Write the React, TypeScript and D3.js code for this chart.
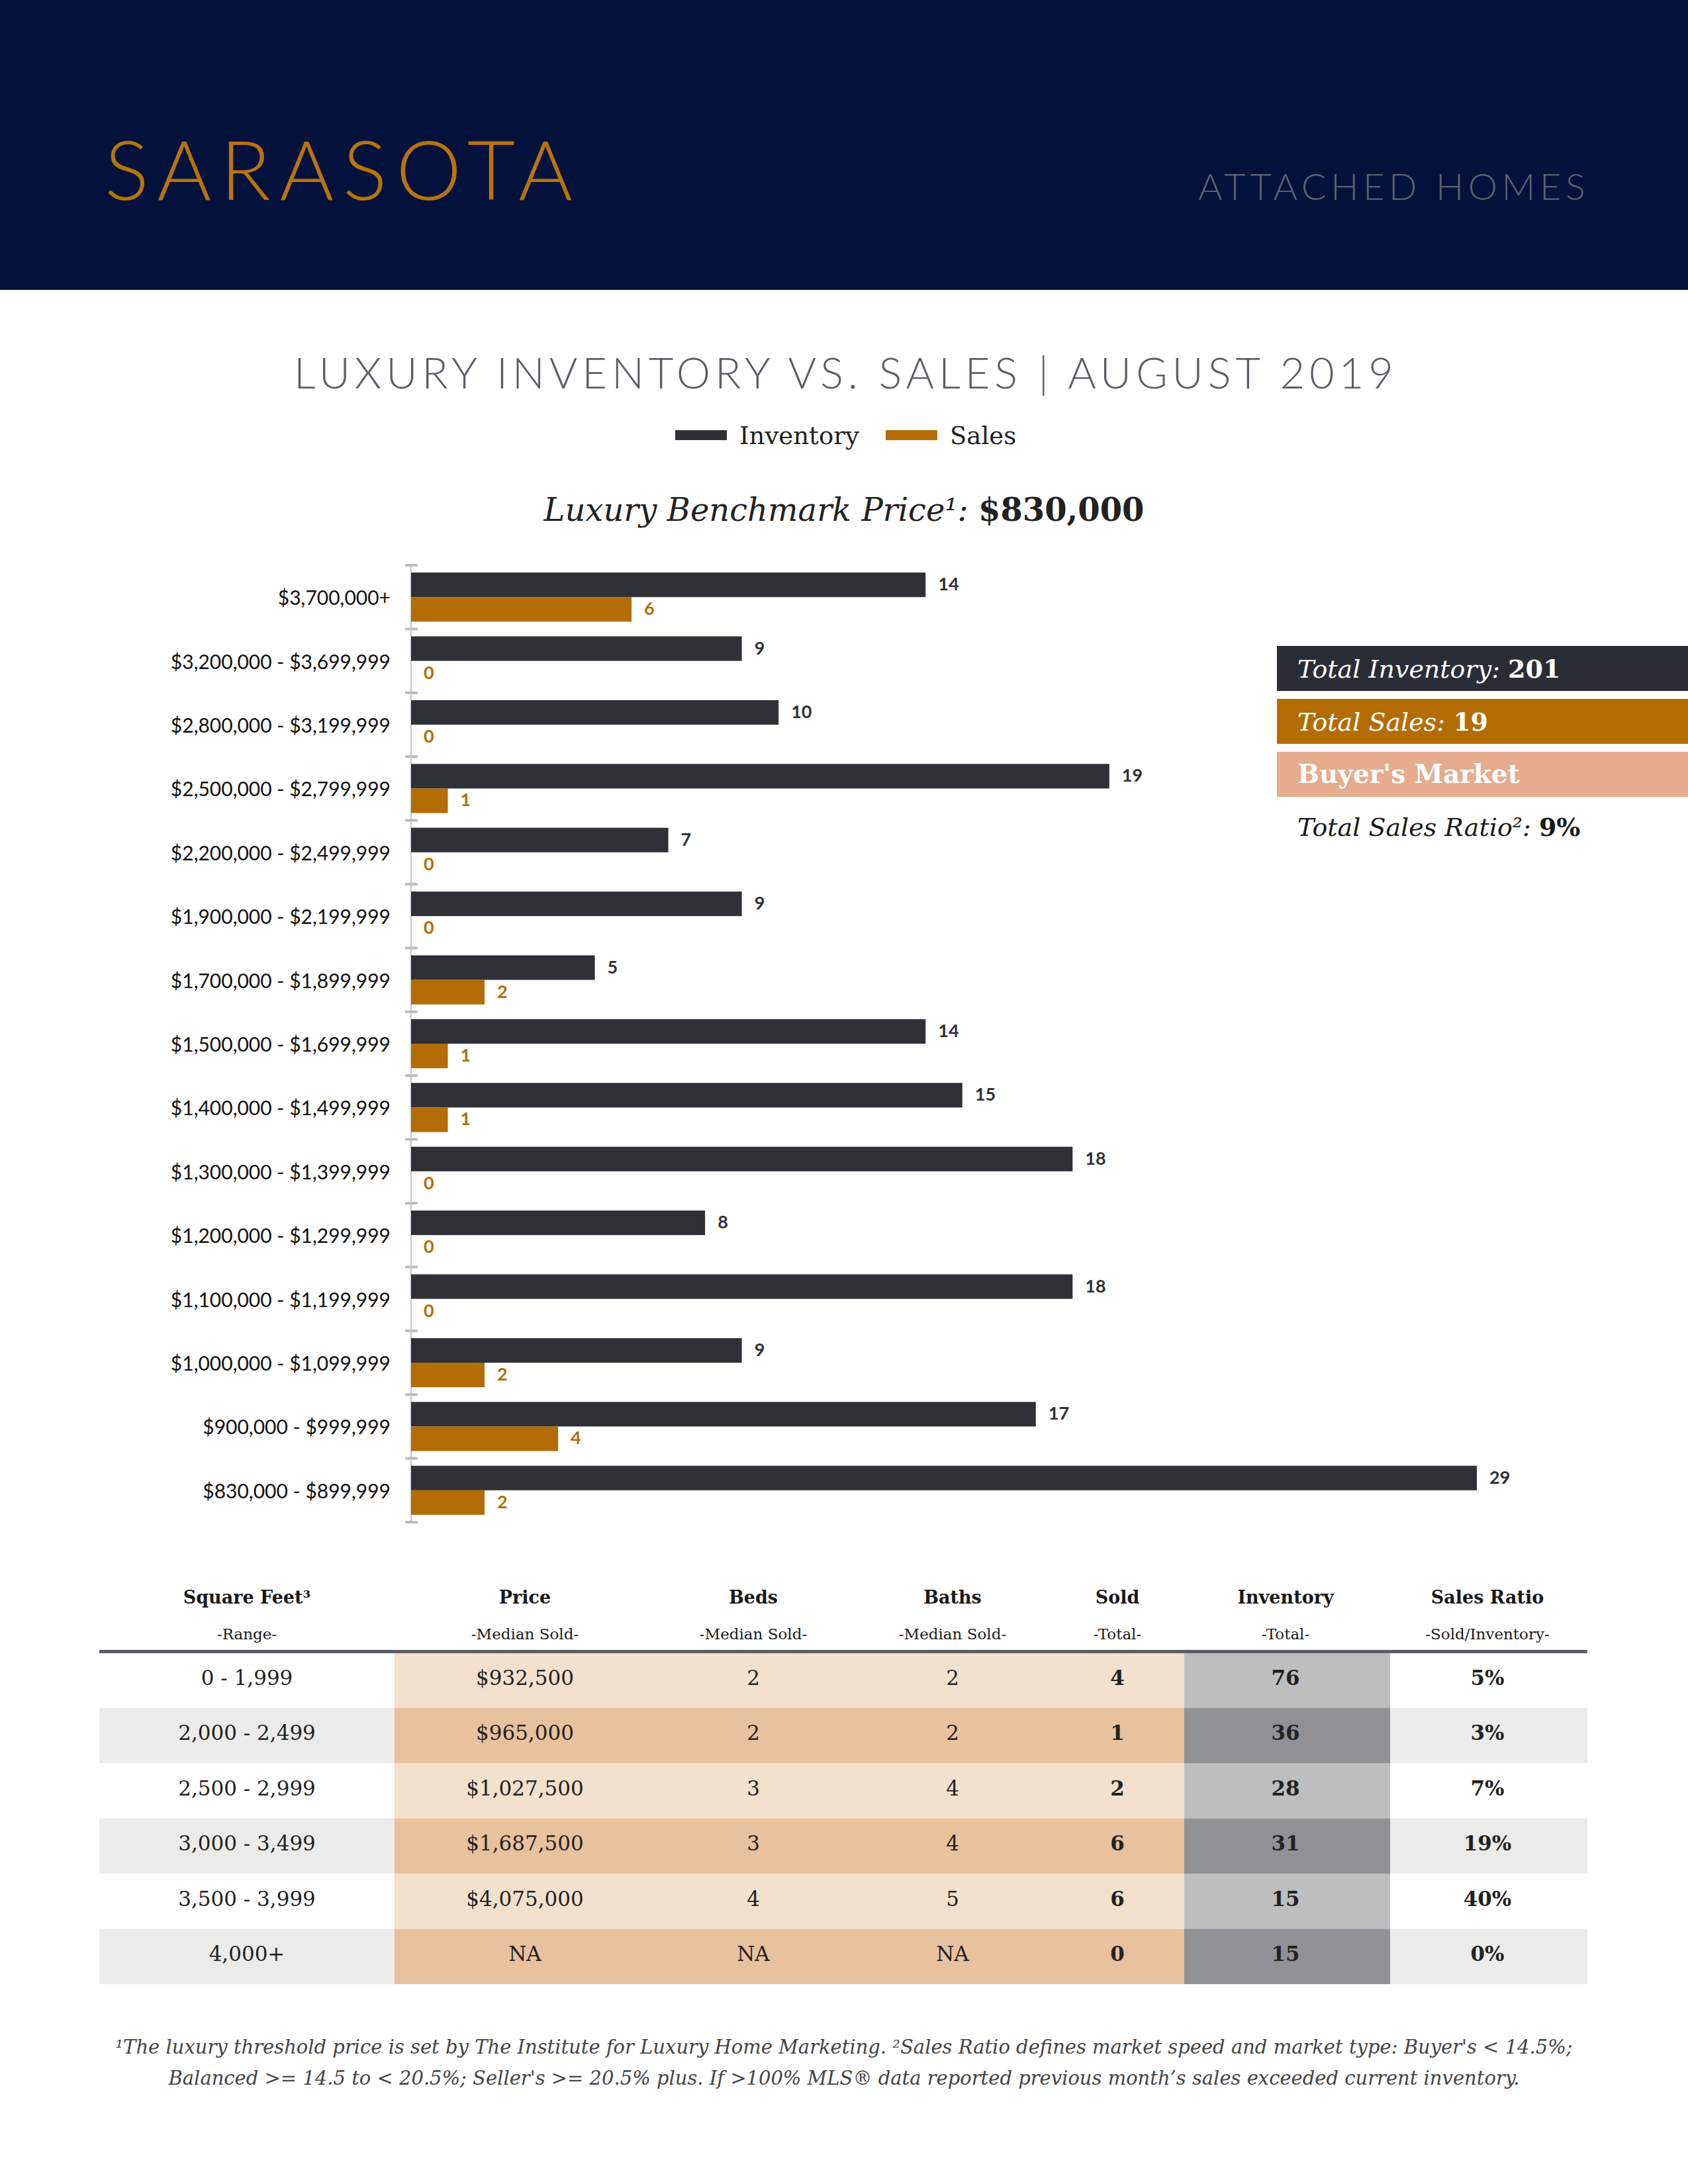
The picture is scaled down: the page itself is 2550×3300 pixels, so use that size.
import React, { useEffect } from 'react'
import * as d3 from 'd3'

// chart data
const categories = [
    '$3,700,000+',
    '$3,200,000 - $3,699,999',
    '$2,800,000 - $3,199,999',
    '$2,500,000 - $2,799,999',
    '$2,200,000 - $2,499,999',
    '$1,900,000 - $2,199,999',
    '$1,700,000 - $1,899,999',
    '$1,500,000 - $1,699,999',
    '$1,400,000 - $1,499,999',
    '$1,300,000 - $1,399,999',
    '$1,200,000 - $1,299,999',
    '$1,100,000 - $1,199,999',
    '$1,000,000 - $1,099,999',
    '$900,000 - $999,999',
    '$830,000 - $899,999'
]
const inventory = [14, 9, 10, 19, 7, 9, 5, 14, 15, 18, 8, 18, 9, 17, 29]
const sales = [6, 0, 0, 1, 0, 0, 2, 1, 1, 0, 0, 0, 2, 4, 2]
const series = ['Inventory', 'Sales']
const seriesColors = ['#303037', '#b36d04']

// summary
const totalInventory = 201
const totalSales = 19
const marketType = "Buyer's Market"
const totalRatio = '9%'
const benchmark = '$830,000'

// table data
const tableHeaders = ['Square Feet³', 'Price', 'Beds', 'Baths', 'Sold', 'Inventory', 'Sales Ratio']
const tableSubHeaders = ['-Range-', '-Median Sold-', '-Median Sold-', '-Median Sold-', '-Total-', '-Total-', '-Sold/Inventory-']
const sqftRanges = ['0 - 1,999', '2,000 - 2,499', '2,500 - 2,999', '3,000 - 3,499', '3,500 - 3,999', '4,000+']
const prices = ['$932,500', '$965,000', '$1,027,500', '$1,687,500', '$4,075,000', 'NA']
const beds = ['2', '2', '3', '3', '4', 'NA']
const baths = ['2', '2', '4', '4', '5', 'NA']
const sold = [4, 1, 2, 6, 6, 0]
const inventoryTotals = [76, 36, 28, 31, 15, 15]
const ratios = ['5%', '3%', '7%', '19%', '40%', '0%']

const footnote1 = '¹The luxury threshold price is set by The Institute for Luxury Home Marketing. ²Sales Ratio defines market speed and market type: Buyer\'s < 14.5%;'
const footnote2 = 'Balanced >= 14.5 to < 20.5%; Seller\'s >= 20.5% plus. If >100% MLS® data reported previous month’s sales exceeded current inventory.'

const serif = '"DejaVu Serif", serif'
const sans = 'Lato, "Open Sans", sans-serif'

const W = 2550
const H = 3300

export default function App() {
    useEffect(() => {
        document.body.style.margin = '0'
    }, [])

    const y = d3.scaleBand().domain(categories).range([854, 2300])
    const ySeries = d3.scaleBand().domain(series).range([0, y.bandwidth()]).paddingOuter(0.3)
    const x = d3.scaleLinear().domain([0, 29]).range([621, 2231])
    const ticks = [...categories.map(c => y(c)), 2300]

    const rows = d3.scaleBand().domain(d3.range(sqftRanges.length)).range([2497, 2998])
    const colEdges = [150, 596, 1789, 2100, 2398]
    const segFills = [
        ['#ffffff', '#ebebea'],
        ['#f3e0cd', '#e8c19d'],
        ['#bebebf', '#919095'],
        ['#ffffff', '#ebebea']
    ]
    const colCenters = [373, 793, 1138, 1439, 1688, 1942, 2247]
    const colWeights = ['normal', 'normal', 'normal', 'normal', 'bold', 'bold', 'bold']
    const tableCols = [sqftRanges, prices, beds, baths, sold, inventoryTotals, ratios]

    return (
        <svg width={W} height={H} style={{ display: 'block', background: '#fff' }}>
            {/* header band */}
            <rect x={0} y={0} width={W} height={438} fill="#03123c" />
            <text x={158} y={302} fill="#b8740a" fontFamily={sans} fontWeight={300} fontSize={125}
                textLength={707} lengthAdjust="spacing">SARASOTA</text>
            <text x={1810} y={302} fill="#5c6170" fontFamily={sans} fontWeight={300} fontSize={56}
                textLength={585} lengthAdjust="spacing">ATTACHED HOMES</text>

            {/* title */}
            <text x={444} y={587} fill="#5b5e66" fontFamily={sans} fontWeight={300} fontSize={65}
                textLength={1661} lengthAdjust="spacing">LUXURY INVENTORY VS. SALES | AUGUST 2019</text>

            {/* legend */}
            {series.map((s, i) => (
                <g key={s} transform={`translate(${[1020, 1338][i]},0)`}>
                    <rect x={0} y={650} width={78} height={15} fill={seriesColors[i]} />
                    <text x={97} y={671} fontFamily={serif} fontSize={37} fill="#222">{s}</text>
                </g>
            ))}

            {/* benchmark */}
            <text x={1275} y={787} textAnchor="middle" fontFamily={serif} fontSize={48} fill="#222">
                <tspan fontStyle="italic" fontWeight={300}>Luxury Benchmark Price¹: </tspan>
                <tspan fontWeight="bold">{benchmark}</tspan>
            </text>

            {/* bars */}
            <line x1={621} x2={621} y1={854} y2={2300} stroke="#c4c4c4" strokeWidth={2} />
            {ticks.map((t, i) => (
                <line key={i} x1={612} x2={631} y1={t} y2={t} stroke="#bdbdbd" strokeWidth={4} />
            ))}
            {categories.map((c, i) => {
                const vals = [inventory[i], sales[i]]
                return (
                    <g key={c}>
                        <text x={590} y={y(c) + y.bandwidth() / 2} textAnchor="end" dominantBaseline="central"
                            fontFamily={sans} fontSize={30} fill="#111">{c}</text>
                        {series.map((s, j) => (
                            <g key={s}>
                                <rect x={x(0)} y={y(c) + ySeries(s)} width={x(vals[j]) - x(0)}
                                    height={ySeries.bandwidth()} fill={seriesColors[j]} />
                                <text x={x(vals[j]) + 19} y={y(c) + ySeries(s) + ySeries.bandwidth() / 2 - 2}
                                    dominantBaseline="central" fontFamily={sans} fontWeight="bold" fontSize={27}
                                    fill={seriesColors[j]}>{vals[j]}</text>
                            </g>
                        ))}
                    </g>
                )
            })}

            {/* summary boxes */}
            <rect x={1929} y={976} width={W - 1929} height={68} fill="#2b2d36" />
            <rect x={1929} y={1056} width={W - 1929} height={68} fill="#b36d04" />
            <rect x={1929} y={1136} width={W - 1929} height={68} fill="#e6ac8e" />
            <text x={1960} y={1024} fill="#fff" fontFamily={serif} fontSize={38}>
                <tspan fontStyle="italic" fontWeight={300}>Total Inventory: </tspan>
                <tspan fontWeight="bold">{totalInventory}</tspan>
            </text>
            <text x={1960} y={1104} fill="#fff" fontFamily={serif} fontSize={38}>
                <tspan fontStyle="italic" fontWeight={300}>Total Sales: </tspan>
                <tspan fontWeight="bold">{totalSales}</tspan>
            </text>
            <text x={1960} y={1183} fill="#fff" fontFamily={serif} fontSize={39} fontWeight="bold">{marketType}</text>
            <text x={1960} y={1263} fill="#1a1a1a" fontFamily={serif} fontSize={38}>
                <tspan fontStyle="italic" fontWeight={300}>Total Sales Ratio²: </tspan>
                <tspan fontWeight="bold">{totalRatio}</tspan>
            </text>

            {/* table */}
            {tableHeaders.map((h, i) => (
                <g key={h}>
                    <text x={colCenters[i]} y={2423} textAnchor="middle" fontFamily={serif} fontWeight="bold"
                        fontSize={27} fill="#1a1a1a">{h}</text>
                    <text x={colCenters[i]} y={2477} textAnchor="middle" fontFamily={serif} fontSize={23}
                        fill="#1a1a1a">{tableSubHeaders[i]}</text>
                </g>
            ))}
            {sqftRanges.map((_, r) => (
                <g key={r}>
                    {segFills.map((f, s) => (
                        <rect key={s} x={colEdges[s]} y={rows(r)} width={colEdges[s + 1] - colEdges[s]}
                            height={rows.bandwidth()} fill={f[r % 2]} />
                    ))}
                    {tableCols.map((col, c) => (
                        <text key={c} x={colCenters[c]} y={rows(r) + rows.bandwidth() / 2 - 4} textAnchor="middle"
                            dominantBaseline="central" fontFamily={serif} fontWeight={colWeights[c]} fontSize={31}
                            fill="#222">{col[r]}</text>
                    ))}
                </g>
            ))}
            <rect x={150} y={2493} width={2248} height={5} fill="#5b5d66" />

            {/* footnote */}
            <text x={1275} y={3103} textAnchor="middle" fontFamily={serif} fontStyle="italic" fontSize={29}
                fill="#444">{footnote1}</text>
            <text x={1275} y={3150} textAnchor="middle" fontFamily={serif} fontStyle="italic" fontSize={29}
                fill="#444">{footnote2}</text>
        </svg>
    )
}
